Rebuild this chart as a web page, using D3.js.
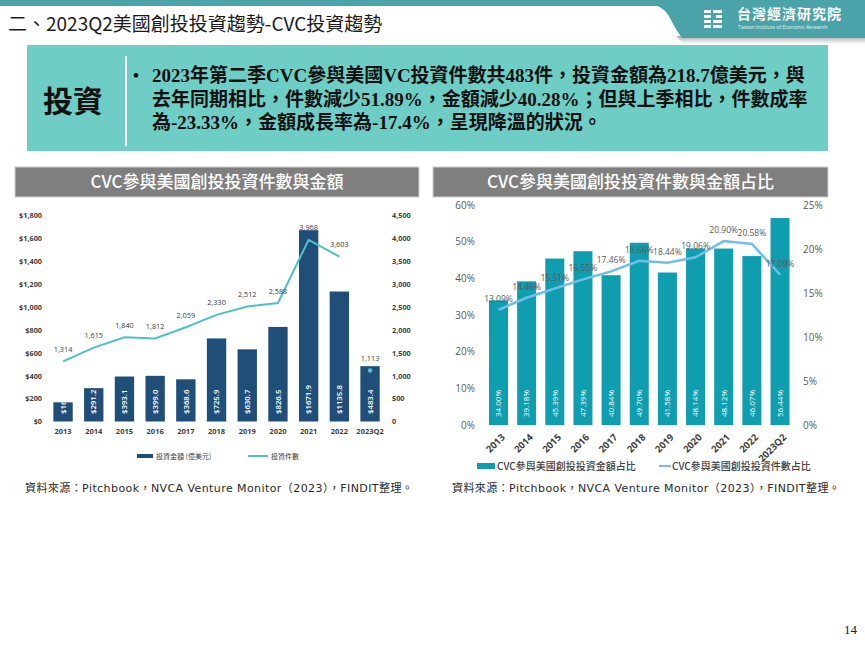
<!DOCTYPE html>
<html><head><meta charset="utf-8">
<script src="https://cdn.jsdelivr.net/npm/d3@7"></script>
<style>body{margin:0;background:#fff;} svg{display:block;}</style>
</head><body>
<svg id="c" width="865" height="649"></svg>
<script>
// ---------- data ----------
const categories = ["2013","2014","2015","2016","2017","2018","2019","2020","2021","2022","2023Q2"];
const amounts = [167.5, 291.2, 393.1, 399.0, 368.6, 725.9, 630.7, 826.5, 1671.9, 1135.8, 483.4];
const dealCounts = [1314, 1615, 1840, 1812, 2059, 2330, 2512, 2588, 3968, 3603, 1113];
const amountShare = [34.00, 39.18, 45.39, 47.39, 40.84, 49.70, 41.58, 48.14, 48.12, 46.07, 56.44];
const countShare = [13.09, 14.46, 15.51, 16.55, 17.46, 18.66, 18.44, 19.06, 20.90, 20.58, 17.09];
const amtTicks = [0, 200, 400, 600, 800, 1000, 1200, 1400, 1600, 1800];
const cntTicks = [0, 500, 1000, 1500, 2000, 2500, 3000, 3500, 4000, 4500];
const shareAmtTicks = [0, 10, 20, 30, 40, 50, 60];
const shareCntTicks = [0, 5, 10, 15, 20, 25];

const pageTitle = "二、2023Q2美國創投投資趨勢-CVC投資趨勢";
const boxLabel = "投資";
const boxLines = [
  "2023年第二季CVC參與美國VC投資件數共483件，投資金額為218.7億美元，與",
  "去年同期相比，件數減少51.89%，金額減少40.28%；但與上季相比，件數成率",
  "為-23.33%，金額成長率為-17.4%，呈現降溫的狀況。"
];
const leftTitle = "CVC參與美國創投投資件數與金額";
const rightTitle = "CVC參與美國創投投資件數與金額占比";
const leftLegend = ["投資金額 (億美元)", "投資件數"];
const rightLegend = ["CVC參與美國創投投資金額占比", "CVC參與美國創投投資件數占比"];
const sourceText = "資料來源：Pitchbook，NVCA Venture Monitor（2023），FINDIT整理。";

// ---------- setup ----------
const svg = d3.select("#c");
const CJK = "'Noto Sans CJK TC','Noto Sans CJK SC',sans-serif";
const NUM = "'Open Sans','Noto Sans CJK TC',sans-serif";
const defs = svg.append("defs");
const g1 = defs.append("linearGradient").attr("id","shadow").attr("x1",0).attr("y1",0).attr("x2",0).attr("y2",1);
g1.append("stop").attr("offset","0%").attr("stop-color","#a9a9a9");
g1.append("stop").attr("offset","100%").attr("stop-color","#ffffff");

// ---------- header ----------
svg.append("polygon").attr("points","676,36 865,36 865,44 684,44").attr("fill","url(#shadow)");
svg.append("rect").attr("x",0).attr("y",0).attr("width",865).attr("height",6).attr("fill","#4aa3a8");
svg.append("path").attr("d","M655,0 L865,0 L865,38 L682,38 Q676,30 672,22 Q666,8 655,5 Z").attr("fill","#4aa3a8");
// logo mark
const logo = svg.append("g").attr("fill","#fff");
[[704,10,7,3],[704,15,7,3],[704,20,7,3],[704,25,7,3],[713,10,9,3],[716,15,6,3],[713,20,9,3],[713,25,9,3]]
  .forEach(r=>logo.append("rect").attr("x",r[0]).attr("y",r[1]).attr("width",r[2]).attr("height",r[3]));
svg.append("text").attr("x",737).attr("y",19).attr("font-family",CJK).attr("font-size",14).attr("font-weight",700)
  .attr("fill","#fff").attr("letter-spacing",1).text("台灣經濟研究院");
svg.append("text").attr("x",738).attr("y",29).attr("font-family","'Open Sans',sans-serif").attr("font-size",5)
  .attr("fill","#e8f4f4").text("Taiwan Institute of Economic Research");

svg.append("text").attr("x",8).attr("y",31).attr("font-family",CJK).attr("font-size",19)
  .attr("fill","#1a1a1a").text(pageTitle);

// ---------- text box ----------
svg.append("rect").attr("x",27).attr("y",45).attr("width",801).attr("height",106).attr("fill","#6ecdc5");
svg.append("line").attr("x1",126).attr("x2",126).attr("y1",56).attr("y2",146).attr("stroke","#fff").attr("stroke-width",2);
svg.append("text").attr("x",73).attr("y",112).attr("text-anchor","middle").attr("font-family",CJK)
  .attr("font-size",30).attr("font-weight",700).attr("fill","#111").text(boxLabel);
svg.append("text").attr("x",133).attr("y",81).attr("font-family","'Liberation Serif',serif").attr("font-size",17)
  .attr("font-weight",700).attr("fill","#111").text("•");
boxLines.forEach((t,i)=>{
  svg.append("text").attr("x",152).attr("y",82 + i*23.5)
    .attr("font-family","'Liberation Serif'," + CJK).attr("font-size",19).attr("font-weight",700)
    .attr("fill","#111").text(t);
});

// ---------- chart title bars ----------
function titleBar(x, w, label){
  svg.append("rect").attr("x",x).attr("y",167).attr("width",w).attr("height",30)
    .attr("fill","#7f7f7f").attr("stroke","#d0d0d0").attr("stroke-width",1);
  svg.append("text").attr("x",x + w/2).attr("y",188).attr("text-anchor","middle")
    .attr("font-family",CJK).attr("font-size",17).attr("font-weight",500).attr("fill","#fff").text(label);
}
titleBar(15, 404, leftTitle);
titleBar(433, 395, rightTitle);

// ---------- left chart ----------
const xL = d3.scaleBand().domain(categories).range([47.7, 385.4]).paddingInner(0.37).paddingOuter(0.185);
const yAmt = d3.scaleLinear().domain([0,1800]).range([421.5, 215.5]);
const yCnt = d3.scaleLinear().domain([0,4500]).range([421.5, 215.5]);
const cx = c => xL(c) + xL.bandwidth()/2;

function styleAxis(g, size, color, weight){
  g.select(".domain").remove();
  g.selectAll("line").remove();
  g.selectAll("text").attr("font-family",NUM).attr("font-size",size).attr("fill",color).attr("font-weight",weight);
}
svg.append("g").attr("transform","translate(45,0)")
  .call(d3.axisLeft(yAmt).tickValues(amtTicks).tickSize(0).tickPadding(3).tickFormat(d=>"$"+d3.format(",")(d)))
  .call(g=>styleAxis(g,7.3,"#404040",700));
svg.append("g").attr("transform","translate(389,0)")
  .call(d3.axisRight(yCnt).tickValues(cntTicks).tickSize(0).tickPadding(3).tickFormat(d3.format(",")))
  .call(g=>styleAxis(g,7.3,"#404040",700));
svg.append("g").attr("transform","translate(0,421.5)")
  .call(d3.axisBottom(xL).tickSize(0).tickPadding(7.5))
  .call(g=>styleAxis(g,7.5,"#404040",700));

const amtData = categories.map((c,i)=>({c, v:amounts[i]}));
const clipL = defs.append("clipPath").attr("id","clipL");
clipL.selectAll("rect").data(amtData).join("rect")
  .attr("x",d=>xL(d.c)).attr("width",xL.bandwidth()).attr("y",d=>yAmt(d.v)).attr("height",d=>yAmt(0)-yAmt(d.v));
svg.append("g").selectAll("rect").data(amtData).join("rect")
  .attr("x",d=>xL(d.c)).attr("width",xL.bandwidth()).attr("y",d=>yAmt(d.v)).attr("height",d=>yAmt(0)-yAmt(d.v))
  .attr("fill","#1f4e79");
svg.append("g").attr("clip-path","url(#clipL)").selectAll("text").data(amtData).join("text")
  .attr("transform",d=>`translate(${cx(d.c)},414) rotate(-90)`).attr("dy","0.35em")
  .attr("font-family",NUM).attr("font-size",7.8).attr("font-weight",600).attr("fill","#fff")
  .text(d=>"$"+d.v.toFixed(1));

const cntData = categories.map((c,i)=>({c, v:dealCounts[i]}));
const cntLine = cntData.slice(0,10);
svg.append("path").datum(cntLine).attr("fill","none").attr("stroke","#4fc1c6").attr("stroke-width",2)
  .attr("d", d3.line().x(d=>cx(d.c)).y(d=>yCnt(d.v)));
svg.append("circle").datum(cntData[10]).attr("cx",d=>cx(d.c)).attr("cy",d=>yCnt(d.v)).attr("r",2.3).attr("fill","#4fc1c6");
svg.append("g").selectAll("text").data(cntData).join("text")
  .attr("x",d=>cx(d.c)).attr("y",d=>yCnt(d.v)-9.5).attr("text-anchor","middle")
  .attr("font-family",NUM).attr("font-size",7.3).attr("fill","#404040")
  .text(d=>d3.format(",")(d.v));

// left legend
svg.append("rect").attr("x",137).attr("y",454).attr("width",16).attr("height",4).attr("fill","#1f4e79");
svg.append("text").attr("x",156).attr("y",458.5).attr("font-family",CJK).attr("font-size",7).attr("fill","#404040").text(leftLegend[0]);
svg.append("line").attr("x1",248).attr("x2",268).attr("y1",456).attr("y2",456).attr("stroke","#4fc1c6").attr("stroke-width",2);
svg.append("text").attr("x",271).attr("y",458.5).attr("font-family",CJK).attr("font-size",7).attr("fill","#404040").text(leftLegend[1]);

const SRC = "'DejaVu Sans','Noto Sans CJK TC',sans-serif";
svg.append("text").attr("x",25).attr("y",492).attr("font-family",SRC).attr("font-size",11)
  .attr("letter-spacing",0.42).attr("fill","#2a2a2a").text(sourceText);

// ---------- right chart ----------
const xR = d3.scaleBand().domain(categories).range([484.4, 794.1]).paddingInner(0.325).paddingOuter(0.1625);
const yShA = d3.scaleLinear().domain([0,60]).range([425, 205]);
const yShC = d3.scaleLinear().domain([0,25]).range([425, 205]);
const cxR = c => xR(c) + xR.bandwidth()/2;

svg.append("g").attr("transform","translate(478,0)")
  .call(d3.axisLeft(yShA).tickValues(shareAmtTicks).tickSize(0).tickPadding(3).tickFormat(d=>d+"%"))
  .call(g=>styleAxis(g,10,"#595959",400));
svg.append("g").attr("transform","translate(800,0)")
  .call(d3.axisRight(yShC).tickValues(shareCntTicks).tickSize(0).tickPadding(3).tickFormat(d=>d+"%"))
  .call(g=>styleAxis(g,10,"#595959",400));
svg.append("g").attr("transform","translate(0,425)")
  .call(d3.axisBottom(xR).tickSize(0))
  .call(g=>{
    styleAxis(g,9.5,"#404040",700);
    g.selectAll("text").attr("y",0).attr("dy",0).attr("text-anchor","end")
      .attr("transform","translate(7,13) rotate(-45)");
  });

const shAData = categories.map((c,i)=>({c, v:amountShare[i]}));
svg.append("g").selectAll("rect").data(shAData).join("rect")
  .attr("x",d=>xR(d.c)).attr("width",xR.bandwidth()).attr("y",d=>yShA(d.v)).attr("height",d=>yShA(0)-yShA(d.v))
  .attr("fill","#0f9db0");
svg.append("g").selectAll("text").data(shAData).join("text")
  .attr("transform",d=>`translate(${cxR(d.c)},417) rotate(-90)`).attr("dy","0.35em")
  .attr("font-family",NUM).attr("font-size",8).attr("fill","#fff")
  .text(d=>d.v.toFixed(2)+"%");

const shCData = categories.map((c,i)=>({c, v:countShare[i]}));
svg.append("path").datum(shCData).attr("fill","none").attr("stroke","#72bde9").attr("stroke-width",2.5)
  .attr("d", d3.line().x(d=>cxR(d.c)).y(d=>yShC(d.v)));
svg.append("g").selectAll("text").data(shCData).join("text")
  .attr("x",d=>cxR(d.c)).attr("y",d=>yShC(d.v)-8).attr("text-anchor","middle")
  .attr("font-family",NUM).attr("font-size",8.5).attr("fill","#595959")
  .text(d=>d.v.toFixed(2)+"%");

// right legend
svg.append("rect").attr("x",477).attr("y",463).attr("width",18).attr("height",6).attr("fill","#0f9db0");
svg.append("text").attr("x",497).attr("y",469.5).attr("font-family",CJK).attr("font-size",10).attr("font-weight",500)
  .attr("fill","#404040").text(rightLegend[0]);
svg.append("line").attr("x1",659).attr("x2",671).attr("y1",466).attr("y2",466).attr("stroke","#72bde9").attr("stroke-width",2);
svg.append("text").attr("x",672).attr("y",469.5).attr("font-family",CJK).attr("font-size",10).attr("font-weight",500)
  .attr("fill","#404040").text(rightLegend[1]);

svg.append("text").attr("x",452).attr("y",492).attr("font-family",SRC).attr("font-size",11)
  .attr("letter-spacing",0.42).attr("fill","#2a2a2a").text(sourceText);

// page number
svg.append("text").attr("x",857).attr("y",634).attr("text-anchor","end").attr("font-family","'Liberation Serif',serif")
  .attr("font-size",13).attr("fill","#222").text("14");
</script>
</body></html>
